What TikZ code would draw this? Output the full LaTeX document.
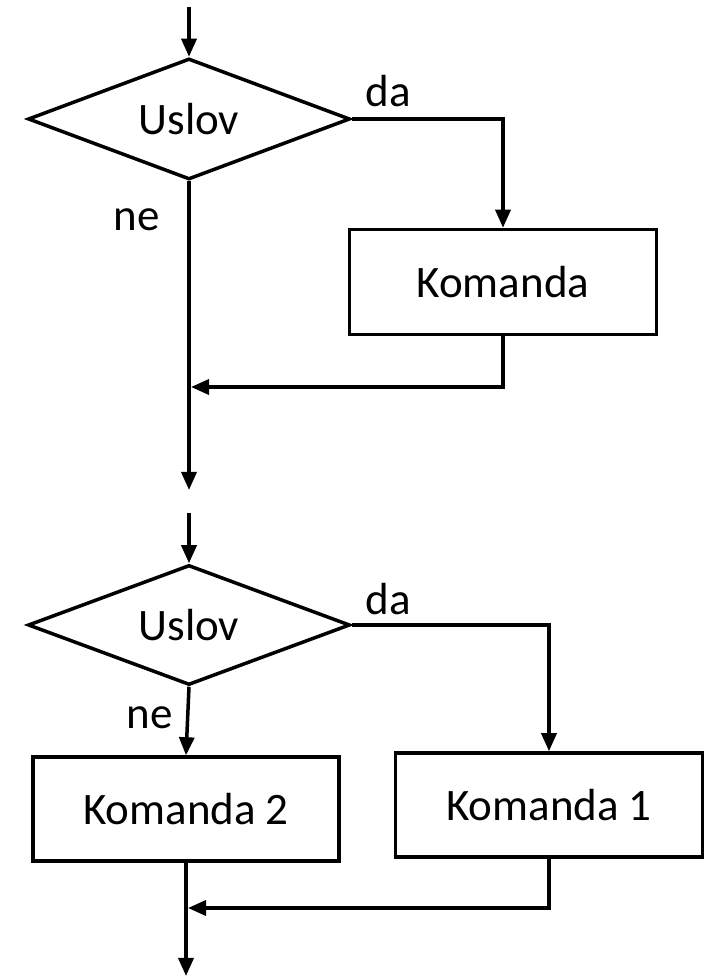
\documentclass[tikz,border=0pt]{standalone}
\usepackage{fontspec}
\setmainfont{Carlito}
\usetikzlibrary{shapes.geometric,arrows.meta}
\tikzstyle{decision} = [diamond, draw, line width=3.5pt, aspect=2.66,
    inner sep=0pt, minimum width=322pt, minimum height=121pt]
\tikzstyle{block} = [rectangle, draw, line width=3.5pt,
    minimum width=307pt, minimum height=105pt]
\tikzstyle{line} = [draw, line width=3.5pt, -{Triangle[length=18pt,width=15pt]}]
\tikzstyle{answer} = [inner sep=0pt]

\begin{document}
\begin{tikzpicture}[x=1pt, y=1pt, font=\fontsize{45}{54}\selectfont]
    \useasboundingbox (0,0) rectangle (704,979);
    % Nodes (if)
    \coordinate (in1) at (189,972);
    \node [decision] (uslov1) at (189,860) {Uslov};
    \node [block] (komanda) at (503,697) {Komanda};
    \node [answer] (da1) at (388,888) {da};
    \node [answer] (ne1) at (137,759) {ne};
    \coordinate (join1) at (191,592);
    \coordinate (out1) at (189,489);
    % Paths (if)
    \path [line] (in1) -- (uslov1);
    \path [line] (uslov1.east) -| (komanda.north);
    \path [line] (komanda.south) |- (join1);
    \path [line] (uslov1.south) -- (out1);
    % Nodes (if-else)
    \coordinate (in2) at (189,466);
    \node [decision, minimum height=120pt] (uslov2) at (189,354) {Uslov};
    \node [block, minimum height=104pt] (komanda1) at (549,174) {Komanda 1};
    \node [block, minimum width=306pt, minimum height=104pt] (komanda2) at (186,170) {Komanda 2};
    \node [answer] (da2) at (388,380) {da};
    \node [answer] (ne2) at (150,261) {ne};
    \coordinate (join2) at (188,71);
    \coordinate (out2) at (186,3);
    % Paths (if-else)
    \path [line] (in2) -- (uslov2);
    \path [line] (uslov2.east) -| (komanda1.north);
    \path [line] (uslov2.south) -- (komanda2.north);
    \path [line] (komanda1.south) |- (join2);
    \path [line] (komanda2.south) -- (out2);
\end{tikzpicture}
\end{document}
